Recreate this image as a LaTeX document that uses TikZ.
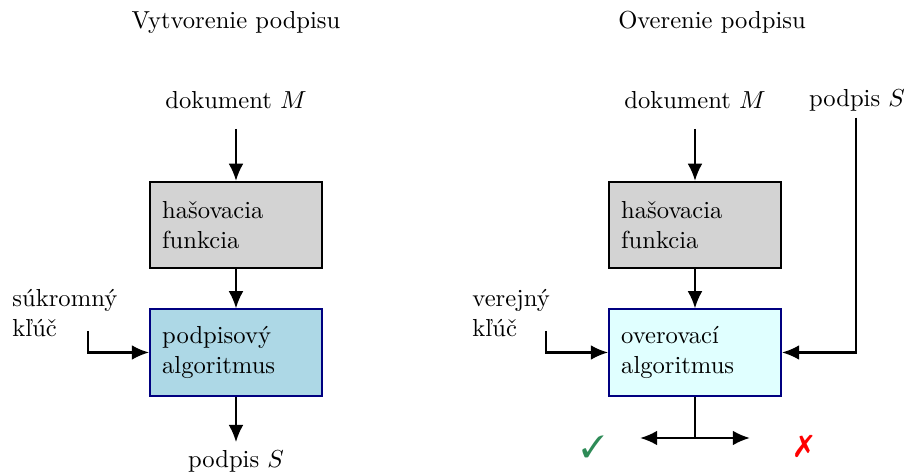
\documentclass[tikz,border=0pt]{standalone}
\usepackage{pifont}
\usetikzlibrary{arrows.meta}
\definecolor{boxgray}{HTML}{D3D3D3}
\definecolor{boxblue}{HTML}{ADD8E6}
\definecolor{boxcyan}{HTML}{E0FFFF}
\definecolor{boxborder}{HTML}{000080}
\definecolor{okgreen}{HTML}{2E8B57}
\definecolor{failred}{HTML}{FF0000}
\begin{document}
\begin{tikzpicture}[x=0.4065pt,y=-0.4065pt,
  arr/.style={line width=0.9pt,-{Latex[length=7pt,width=6pt]}},
  ln/.style={line width=0.9pt},
  box/.style={draw,line width=0.8pt,minimum width=69.9pt,minimum height=35pt,
              text width=60pt,inner xsep=4.95pt,inner ysep=0pt,align=left},
  graybox/.style={box,fill=boxgray,draw=black},
  bluebox/.style={box,fill=boxblue,draw=boxborder},
  cyanbox/.style={box,fill=boxcyan,draw=boxborder},
  lbl/.style={inner sep=0pt}]
\useasboundingbox (0,0) rectangle (906,475);
% left: signing
\node[lbl] (t1) at (236,22) {Vytvorenie podpisu};
\node[lbl] (dok1) at (236,100) {dokument $M$};
\node[graybox] (hash1) at (236,225) {hašovacia\\funkcia};
\node[bluebox] (sign) at (236,352.5) {podpisový\\algoritmus};
\node[lbl,anchor=west,align=left] (priv) at (12,313) {súkromný\\kľúč};
\node[lbl] (sigout) at (236,461) {podpis $S$};
\coordinate (k1) at (88,331);
\draw[arr,shorten <=8pt] (dok1) -- (hash1);
\draw[arr] (hash1) -- (sign);
\draw[arr] (k1) |- (sign.west);
\draw[arr,shorten >=3pt] (sign) -- (sigout);
% right: verification
\node[lbl] (t2) at (712,22) {Overenie podpisu};
\node[lbl] (dok2) at (695,100) {dokument $M$};
\node[lbl] (sig2) at (857,100) {podpis $S$};
\node[graybox] (hash2) at (695,225) {hašovacia\\funkcia};
\node[cyanbox] (ver) at (695,352.5) {overovací\\algoritmus};
\node[lbl,anchor=west,align=left] (pub) at (472,313) {verejný\\kľúč};
\coordinate (k2) at (546,331);
\coordinate (split) at (695,438);
\coordinate (okend) at (640,438);
\coordinate (failend) at (750,438);
\node[lbl,text=okgreen,font=\fontsize{12.5}{14}\selectfont] (ok) at (593,447) {\ding{51}};
\node[lbl,text=failred,font=\fontsize{12.5}{14}\selectfont] (fail) at (804,446) {\ding{55}};
\draw[arr,shorten <=8pt] (dok2) -- (hash2);
\draw[arr] (hash2) -- (ver);
\draw[arr] (k2) |- (ver.west);
\draw[arr,shorten <=2.5pt] (sig2.south -| 856,0) |- (ver.east);
\draw[ln] (ver) -- (split);
\draw[arr] (split) -- (okend);
\draw[arr] (split) -- (failend);
\end{tikzpicture}
\end{document}
